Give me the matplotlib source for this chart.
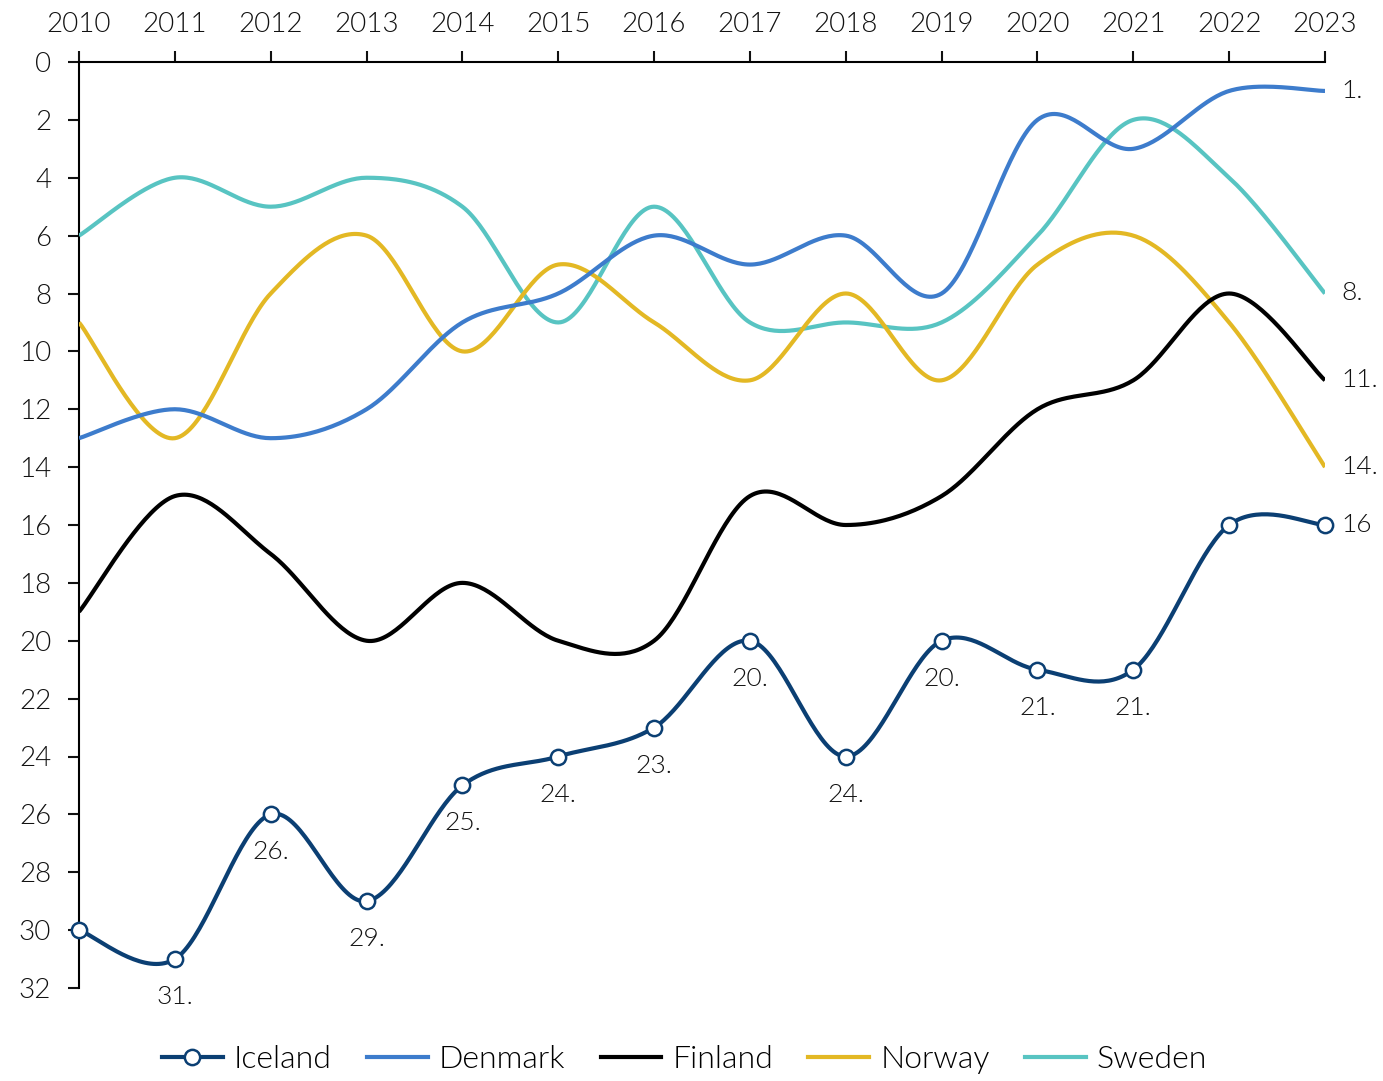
import numpy as np
import matplotlib
matplotlib.use('Agg')
import matplotlib.pyplot as plt

years = list(range(2010, 2024))
iceland = [30, 31, 26, 29, 25, 24, 23, 20, 24, 20, 21, 21, 16, 16]
denmark = [13, 12, 13, 12, 9, 8, 6, 7, 6, 8, 2, 3, 1, 1]
finland = [19, 15, 17, 20, 18, 20, 20, 15, 16, 15, 12, 11, 8, 11]
norway = [9, 13, 8, 6, 10, 7, 9, 11, 8, 11, 7, 6, 9, 14]
sweden = [6, 4, 5, 4, 5, 9, 5, 9, 9, 9, 6, 2, 4, 8]

# Iceland points that get a label under them
iceland_labels = ['', '31.', '26.', '29.', '25.', '24.', '23.', '20.',
                  '24.', '20.', '21.', '21.', '', '']
end_labels = {'Denmark': '1.', 'Sweden': '8.', 'Finland': '11.',
              'Norway': '14.', 'Iceland': '16'}

colors = {
    'Iceland': '#0b3f73',
    'Denmark': '#3d7ccc',
    'Finland': '#000000',
    'Norway': '#e3b824',
    'Sweden': '#58c4c2',
}

plt.rcParams['font.family'] = ['Lato', 'DejaVu Sans']
plt.rcParams['font.weight'] = 300


def smooth(x, y, n=40):
    # Excel-style smoothed line: cubic bezier through every point
    x = np.asarray(x, float)
    y = np.asarray(y, float)
    px = np.concatenate([[x[0]], x, [x[-1]]])
    py = np.concatenate([[y[0]], y, [y[-1]]])
    t = np.linspace(0, 1, n)[:, None]
    xs, ys = [], []
    for i in range(1, len(px) - 2):
        p0 = np.array([px[i], py[i]])
        p3 = np.array([px[i + 1], py[i + 1]])
        c1 = p0 + (p3 - np.array([px[i - 1], py[i - 1]])) / 6
        c2 = p3 - (np.array([px[i + 2], py[i + 2]]) - p0) / 6
        b = ((1 - t) ** 3) * p0 + 3 * ((1 - t) ** 2) * t * c1 \
            + 3 * (1 - t) * t ** 2 * c2 + t ** 3 * p3
        xs.append(b[:, 0])
        ys.append(b[:, 1])
    return np.concatenate(xs), np.concatenate(ys)


fig = plt.figure(figsize=(13.83, 10.81), dpi=100)
ax = fig.add_axes([79 / 1383, 1 - 988 / 1081,
                   (1325 - 79) / 1383, (988 - 62) / 1081])

series = [('Iceland', iceland), ('Denmark', denmark), ('Finland', finland),
          ('Norway', norway), ('Sweden', sweden)]

for name, vals in series[::-1]:
    sx, sy = smooth(years, vals)
    z = 5 if name == 'Iceland' else 3
    ax.plot(sx, sy, color=colors[name], lw=3, zorder=z, solid_capstyle='butt')

# Iceland markers
ax.plot(years, iceland, ls='none', marker='o', ms=11, mfc='white',
        mec=colors['Iceland'], mew=1.8, zorder=6, clip_on=False)

for x, y, lab in zip(years, iceland, iceland_labels):
    if lab:
        ax.annotate(lab, (x, y), xytext=(0, -38), textcoords='offset pixels',
                    ha='center', va='center', fontsize=19, color='#111111',
                    zorder=4,
                    bbox=dict(boxstyle='square,pad=0.1', fc='white', ec='none'))

for name, vals in series:
    ax.annotate(end_labels[name], (years[-1], vals[-1]), xytext=(16, 0),
                textcoords='offset pixels', ha='left', va='center',
                fontsize=19, color='#111111', annotation_clip=False)

# legend handles
handles = []
for name, vals in series:
    if name == 'Iceland':
        h, = ax.plot([], [], color=colors[name], lw=3, marker='o', ms=11,
                     mfc='white', mec=colors[name], mew=1.8, label=name)
    else:
        h, = ax.plot([], [], color=colors[name], lw=3, label=name)
    handles.append(h)

ax.set_xlim(2010, 2023)
ax.set_ylim(32, 0)
ax.set_xticks(years)
ax.set_yticks(range(0, 33, 2))
ax.xaxis.tick_top()
ax.tick_params(axis='x', direction='out', length=8, width=1.5, pad=10,
               labelsize=20, colors='#111111')
ax.tick_params(axis='y', direction='out', length=8, width=1.5, pad=12,
               labelsize=20, colors='#111111')
ax.spines['right'].set_visible(False)
ax.spines['bottom'].set_visible(False)
ax.spines['left'].set_linewidth(1.5)
ax.spines['top'].set_linewidth(1.5)

fig.legend(handles=handles, loc='center',
           bbox_to_anchor=(0.495, 1 - 1060 / 1081),
           ncol=5, frameon=False, fontsize=23, handlelength=1.9,
           handletextpad=0.35, columnspacing=1.1)

fig.savefig('out.png', dpi=100)
